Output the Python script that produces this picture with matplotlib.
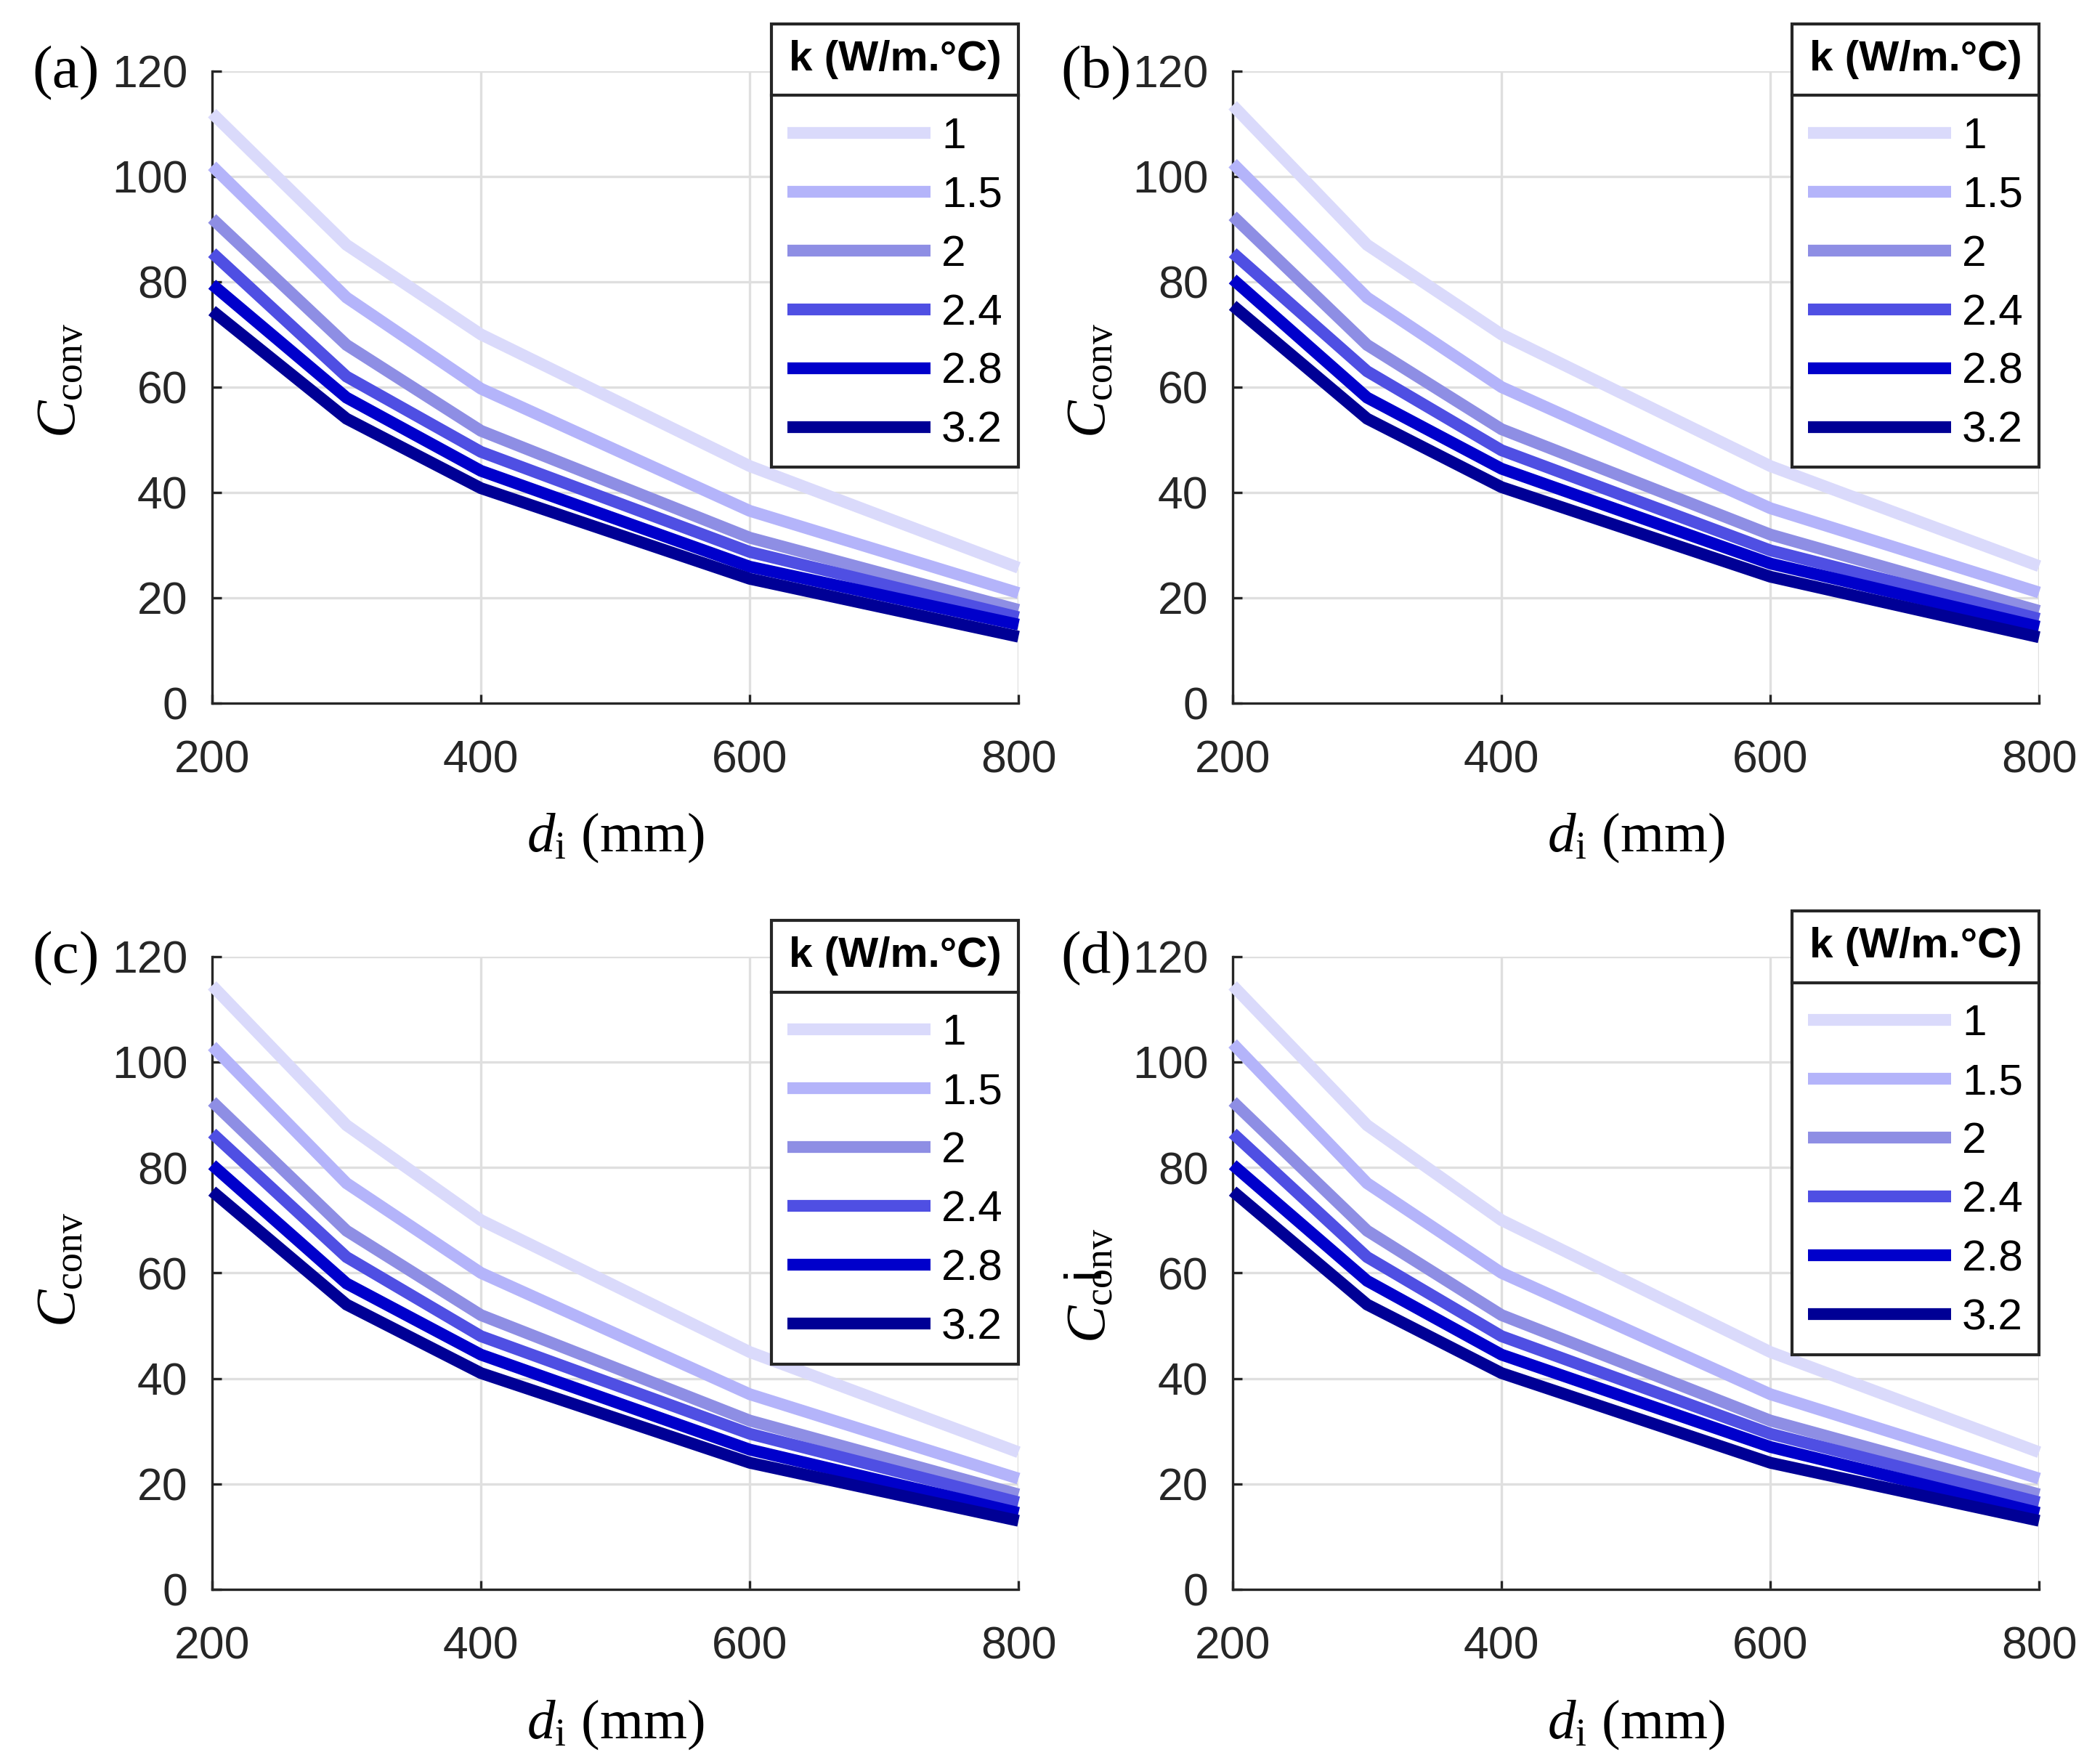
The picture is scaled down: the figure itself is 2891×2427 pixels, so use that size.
import matplotlib
matplotlib.use('Agg')
import matplotlib.pyplot as plt
from matplotlib.lines import Line2D

plt.rcParams['font.family'] = ['Liberation Sans', 'DejaVu Sans']
plt.rcParams['mathtext.fontset'] = 'custom'
plt.rcParams['mathtext.rm'] = 'Liberation Serif'
plt.rcParams['mathtext.it'] = 'Liberation Serif:italic'

# data
d_i = [200, 300, 400, 600, 800]
k_labels = ['1', '1.5', '2', '2.4', '2.8', '3.2']
k_colors = ['#DADAFB', '#B4B4FA', '#8E8EE4', '#4F4FE3', '#0000CB', '#000095']

conv_a = [[112.0, 87.0, 70.0, 45.0, 25.7],
          [102.0, 77.0, 59.7, 36.5, 20.9],
          [92.0, 68.0, 51.7, 31.4, 17.7],
          [85.5, 62.0, 47.7, 28.7, 16.3],
          [79.5, 58.0, 44.1, 25.9, 14.9],
          [74.5, 54.0, 40.8, 23.6, 12.6]]
conv_b = [[113.5, 87.0, 70.0, 45.0, 26.0],
          [102.5, 77.0, 60.0, 37.0, 21.0],
          [92.5, 68.0, 52.0, 32.0, 17.5],
          [85.5, 63.0, 48.0, 29.0, 16.0],
          [80.5, 58.0, 44.5, 26.5, 14.5],
          [75.5, 54.0, 41.0, 24.0, 12.5]]
conv_c = [[114.5, 88.0, 70.0, 45.0, 26.0],
          [103.0, 77.0, 60.0, 37.0, 21.0],
          [92.5, 68.0, 52.0, 32.0, 18.0],
          [86.5, 63.0, 48.0, 29.5, 16.5],
          [80.5, 58.0, 44.5, 26.5, 14.5],
          [75.5, 54.0, 41.0, 24.0, 13.0]]
conv_d = [[114.5, 88.0, 70.0, 45.0, 26.0],
          [103.5, 77.0, 60.0, 37.0, 21.0],
          [92.5, 68.0, 52.0, 32.0, 18.0],
          [86.5, 63.0, 48.0, 29.5, 16.5],
          [80.5, 58.5, 44.5, 27.0, 14.5],
          [75.5, 54.0, 41.0, 24.0, 13.0]]

panel_tags = ['(a)', '(b)', '(c)', '(d)']
panel_data = [conv_a, conv_b, conv_c, conv_d]

x_ticks = [200, 400, 600, 800]
y_ticks = [0, 20, 40, 60, 80, 100, 120]

W, H = 2891, 2427
fig = plt.figure(figsize=(W / 300, H / 300), dpi=300)

# left, bottom, width, height in figure fractions
boxes = [[0.1010, 0.6012, 0.3840, 0.3585],
         [0.5870, 0.6012, 0.3840, 0.3585],
         [0.1010, 0.0985, 0.3840, 0.3590],
         [0.5870, 0.0985, 0.3840, 0.3590]]
legend_top = [1.075, 1.075, 1.057, 1.072]
ylab_x = [-0.170, -0.158, -0.170, -0.158]
ylab_y = [0.51, 0.51, 0.505, 0.48]
tag_x = [-0.181, -0.169, -0.181, -0.169]

ink = '#262626'
legends = []

for i in range(4):
    ax = fig.add_axes(boxes[i])
    handles = []
    for j in range(len(k_labels)):
        ln, = ax.plot(d_i, panel_data[i][j], color=k_colors[j], lw=3.9,
                      solid_capstyle='butt', solid_joinstyle='miter',
                      clip_on=False, zorder=3)
        handles.append(ln)

    ax.set_xlim(200, 800)
    ax.set_ylim(0, 120)
    ax.set_xticks(x_ticks)
    ax.set_yticks(y_ticks)
    ax.grid(True, color='#DFDFDF', lw=0.8)
    ax.set_axisbelow(True)
    ax.spines['top'].set_visible(False)
    ax.spines['right'].set_visible(False)
    for s in ['left', 'bottom']:
        ax.spines[s].set_color(ink)
        ax.spines[s].set_linewidth(0.8)
    ax.tick_params(direction='in', length=3, width=0.8, color=ink,
                   labelcolor=ink, labelsize=15)
    ax.tick_params(axis='x', pad=12)
    ax.tick_params(axis='y', pad=8)

    ax.text(0.5, -0.2345, r'$d_{\rm i}$ (mm)', transform=ax.transAxes,
            ha='center', va='baseline', fontsize=18.5,
            family='Liberation Serif')
    ax.text(ylab_x[i], ylab_y[i], r'$C_{\rm conv}$', transform=ax.transAxes,
            ha='center', va='baseline', rotation=90, rotation_mode='anchor',
            fontsize=18.5)
    ax.text(tag_x[i], 0.9966, panel_tags[i], transform=ax.transAxes,
            ha='center', va='center', fontsize=20, family='Liberation Serif')

    leg = ax.legend(handles, k_labels, title='k (W/m.°C)', loc='upper right',
                    bbox_to_anchor=(1.0, legend_top[i]), borderaxespad=0,
                    fancybox=False, framealpha=1, edgecolor=ink, fontsize=14.5,
                    title_fontproperties={'weight': 'bold', 'size': 14},
                    handlelength=3.25, handletextpad=0.25, labelspacing=0.43,
                    borderpad=0.37)
    leg.get_frame().set_linewidth(1.0)
    leg._legend_box.sep = 12.5
    leg.set_zorder(5)
    legends.append(leg)

    if i == 3:
        # stray glyph sitting over the label in panel (d)
        ax.text(-0.183, 0.50, 'i', transform=ax.transAxes, rotation=90,
                ha='center', va='center', fontsize=17.5, color='black')

# horizontal rule under each legend title
fig.canvas.draw()
renderer = fig.canvas.get_renderer()
inv = fig.transFigure.inverted()
for leg in legends:
    fb = leg.get_frame().get_window_extent(renderer)
    tb = leg.get_title().get_window_extent(renderer)
    tc = 0.5 * (tb.y0 + tb.y1)
    y_sep = fb.y1 - 2 * (fb.y1 - tc)
    (x0, y0), (x1, y1) = inv.transform([(fb.x0, y_sep), (fb.x1, y_sep)])
    fig.add_artist(Line2D([x0, x1], [y0, y1], color=ink, lw=1.0, zorder=10))

fig.savefig('out.png', dpi=300)
